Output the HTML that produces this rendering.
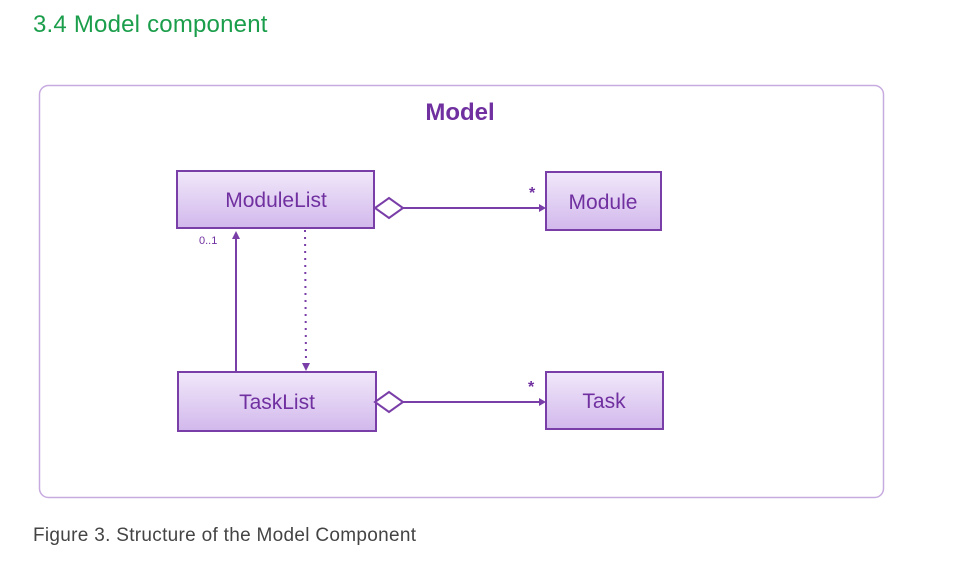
<!DOCTYPE html>
<html><head><style>
body{margin:0;width:959px;height:565px;background:#fff;overflow:hidden;font-family:"Liberation Sans",sans-serif;}
.h{position:absolute;left:33px;top:11px;font-size:24px;color:#1b9e4b;letter-spacing:0.2px;}
.c{position:absolute;left:33px;top:525px;font-size:19px;color:#444;letter-spacing:0.3px;}
</style></head><body>
<div class="h">3.4 Model component</div>
<svg width="959" height="565" style="position:absolute;left:0;top:0">
<defs>
<linearGradient id="g" x1="0" y1="0" x2="0" y2="1">
<stop offset="0" stop-color="#f1e8fa"/><stop offset="1" stop-color="#d2b8ec"/></linearGradient>
</defs>
<rect x="39.5" y="85.5" width="844" height="412" rx="9" fill="#fff" stroke="#c7abe0" stroke-width="1.5"/>
<text x="460" y="120" text-anchor="middle" font-size="24" font-weight="bold" fill="#7030a0" font-family="Liberation Sans">Model</text>
<g stroke="#7a3ea8" stroke-width="2" fill="url(#g)">
<rect x="177" y="171" width="197" height="57"/>
<rect x="546" y="172" width="115" height="58"/>
<rect x="178" y="372" width="198" height="59"/>
<rect x="546" y="372" width="117" height="57"/>
</g>
<g font-family="Liberation Sans" font-size="21" fill="#7030a0" text-anchor="middle">
<text x="276" y="207">ModuleList</text>
<text x="603" y="209">Module</text>
<text x="277" y="409">TaskList</text>
<text x="604" y="408">Task</text>
</g>
<g stroke="#7a3ea8" stroke-width="2" fill="none">
<polygon points="375,208 389,198 403,208 389,218" fill="#fff"/>
<line x1="403" y1="208" x2="544" y2="208"/>
<polygon points="375,402 389,392 403,402 389,412" fill="#fff"/>
<line x1="403" y1="402" x2="544" y2="402"/>
<line x1="236" y1="372" x2="236" y2="233"/>
<line x1="305" y1="230" x2="306" y2="366" stroke-dasharray="2,5"/>
</g>
<g fill="#7a3ea8">
<polygon points="546,208 539,204 539,212"/>
<polygon points="546,402 539,398 539,406"/>
<polygon points="236,231 232,239 240,239"/>
<polygon points="306,371 302,363 310,363"/>
</g>
<g font-family="Liberation Sans" fill="#7030a0">
<text x="529" y="198" font-size="16" font-weight="bold">*</text>
<text x="528" y="392" font-size="16" font-weight="bold">*</text>
<text x="199" y="244" font-size="11">0..1</text>
</g>
</svg>
<div class="c">Figure 3. Structure of the Model Component</div>
</body></html>
